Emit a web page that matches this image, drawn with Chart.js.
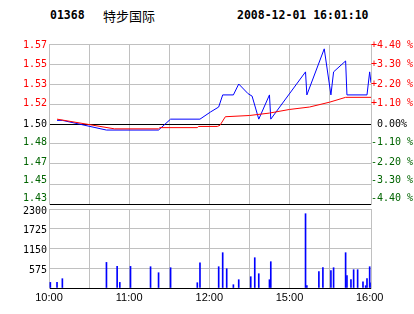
<!DOCTYPE html>
<html>
<head>
<meta charset="utf-8">
<script src="https://cdn.jsdelivr.net/npm/chart.js@4.4.0/dist/chart.umd.min.js"></script>
<style>
  body { margin: 0; background: #fff; width: 414px; height: 314px; overflow: hidden; position: relative; }
  canvas { position: absolute; left: 0; }
  .hd { position: absolute; top: 10px; font: bold 11.5px "DejaVu Sans Mono"; line-height: 11.5px; color: #000; white-space: pre; }
  .cn { font: 13px "Noto Sans CJK SC"; line-height: 13px; top: 9px; }
</style>
</head>
<body>
<div class="hd" style="left:50px">01368</div>
<div class="hd cn" style="left:103px">特步国际</div>
<div class="hd" style="left:237px">2008-12-01 16:01:10</div>
<canvas id="priceChart" width="414" height="214" style="top:0"></canvas>
<canvas id="volChart" width="414" height="114" style="top:200px"></canvas>
<script>
// 昨收 + 刻度
const preClose = 1.50;
const pctSteps = [4.4, 3.3, 2.2, 1.1, 0, -1.1, -2.2, -3.3, -4.4];
const priceLabels = ['1.57', '1.55', '1.53', '1.52', '1.50', '1.48', '1.47', '1.45', '1.43'];
const pctLabels = ['+4.40 %', '+3.30 %', '+2.20 %', '+1.10 %', ' 0.00%', '-1.10 %', '-2.20 %', '-3.30 %', '-4.40 %'];
const timeTicks = [0, 30, 60, 90, 120, 150, 180, 210, 240];
const timeLabels = ['10:00', '', '11:00', '', '12:00', '', '15:00', '', '16:00'];
const volTicks = [0, 575, 1150, 1725, 2300];
const lastMinute = 241;

// 成交价 (分钟, 价格)
const priceMinutes = [6, 10, 43, 82, 91, 113, 121, 127, 130, 138, 142, 149, 152, 157, 165, 166, 192, 193, 206, 211, 213, 222, 223, 238, 240, 241];
const prices = [1.503, 1.503, 1.495, 1.495, 1.504, 1.504, 1.510, 1.514, 1.524, 1.524, 1.533, 1.525, 1.523, 1.504, 1.524, 1.504, 1.543, 1.524, 1.562, 1.524, 1.543, 1.552, 1.524, 1.524, 1.543, 1.534];

// 均价
const avgMinutes = [6, 49, 82, 83, 111, 112, 126, 128, 132, 150, 165, 180, 195, 210, 222, 241];
const avgPrices = [1.504, 1.496, 1.496, 1.497, 1.497, 1.498, 1.498, 1.499, 1.506, 1.507, 1.509, 1.512, 1.514, 1.518, 1.522, 1.522];

// 成交量
const volMinutes = [1, 6, 10, 43, 51, 53, 61, 76, 82, 91, 111, 113, 127, 130, 133, 138, 142, 151, 154, 157, 165, 166, 192, 193, 202, 205, 211, 213, 222, 223, 226, 228, 231, 235, 237, 238, 240, 241];
const volumes = [163, 163, 271, 745, 629, 163, 629, 620, 445, 591, 154, 736, 620, 1028, 562, 96, 242, 329, 882, 416, 242, 766, 2163, 67, 475, 591, 504, 591, 1028, 358, 242, 533, 533, 183, 67, 271, 620, 154];

const RED = '#ff0000', GREEN = '#006400', GREY = '#c0c0c0';
const tickFont = { family: 'DejaVu Sans Mono', size: 10 };
// 价格标签的上下微调 (像素), 底部几个标签在原图里往上挤
const labelNudge = [1, 0, 0, -1, 0, -2, -2, -4, -6];

const priceMin = preClose * (1 + pctSteps[pctSteps.length - 1] / 100);
const priceMax = preClose * (1 + pctSteps[0] / 100);

function pctColor(i) {
    return pctSteps[i] > 0 ? RED : (pctSteps[i] < 0 ? GREEN : '#000');
}

function pctTicks(s) {
    s.ticks = pctSteps.map(p => ({ value: preClose * (1 + p / 100) }));
}

// 只画标签的轴, 标签位置按 labelNudge 微调
function nudgedTicks(s) {
    pctTicks(s);
    s.getPixelForTick = i => s.getPixelForValue(s.ticks[i].value) + labelNudge[i];
}

const xAxis = (showLabels) => ({
    type: 'linear',
    min: 0,
    max: lastMinute,
    offset: false,
    afterBuildTicks: s => { s.ticks = timeTicks.map(v => ({ value: v })); },
    grid: {
        drawTicks: false,
        offset: false,
        color: ctx => ctx.index === timeTicks.length - 1 ? 'rgba(0,0,0,0)' : GREY
    },
    border: { color: '#000' },
    ticks: {
        display: showLabels,
        autoSkip: false,
        maxRotation: 0,
        padding: 3,
        color: '#000',
        font: { family: 'Liberation Sans', size: 11 },
        callback: (v, i) => timeLabels[i]
    },
    afterFit: s => { s.height = showLabels ? 26 : 0; }
});

Chart.defaults.animation = false;

new Chart(document.getElementById('priceChart'), {
    type: 'line',
    data: {
        datasets: [{
            data: avgMinutes.map((m, i) => ({ x: m, y: avgPrices[i] })),
            borderColor: RED,
            borderWidth: 1,
            pointRadius: 0,
            tension: 0
        }, {
            data: priceMinutes.map((m, i) => ({ x: m, y: prices[i] })),
            borderColor: '#0000ff',
            borderWidth: 1,
            pointRadius: 0,
            tension: 0
        }]
    },
    options: {
        responsive: false,
        layout: { padding: { top: 44, bottom: 10, left: 0, right: 0 } },
        plugins: { legend: { display: false }, tooltip: { enabled: false } },
        scales: {
            x: xAxis(false),
            y: {
                weight: 0,
                min: priceMin,
                max: priceMax,
                afterBuildTicks: pctTicks,
                afterFit: s => { s.width = 0; },
                grid: {
                    drawTicks: false,
                    color: ctx => (pctSteps[ctx.index] === 0 || ctx.index === pctSteps.length - 1) ? '#000' : GREY
                },
                border: { color: GREY },
                ticks: { display: false }
            },
            yl: {
                position: 'left',
                weight: 1,
                min: priceMin,
                max: priceMax,
                afterBuildTicks: nudgedTicks,
                afterFit: s => { s.width = 49; },
                grid: { display: false, drawTicks: false },
                border: { display: false },
                ticks: {
                    padding: 2,
                    font: tickFont,
                    color: ctx => pctColor(ctx.index),
                    callback: (v, i) => priceLabels[i]
                }
            },
            y2: {
                position: 'right',
                min: priceMin,
                max: priceMax,
                afterBuildTicks: nudgedTicks,
                afterFit: s => { s.width = 43; },
                grid: { display: false, drawTicks: false },
                border: { color: GREY },
                ticks: {
                    padding: 0,
                    font: tickFont,
                    color: ctx => pctColor(ctx.index),
                    callback: (v, i) => pctLabels[i]
                }
            }
        }
    }
});

new Chart(document.getElementById('volChart'), {
    type: 'bar',
    data: {
        datasets: [{
            data: volMinutes.map((m, i) => ({ x: m, y: volumes[i] })),
            backgroundColor: '#0000ff',
            borderWidth: 0,
            barThickness: 1
        }]
    },
    options: {
        responsive: false,
        layout: { padding: { top: 9, bottom: 0, left: 0, right: 0 } },
        plugins: { legend: { display: false }, tooltip: { enabled: false } },
        scales: {
            x: xAxis(true),
            y: {
                min: 0,
                max: volTicks[volTicks.length - 1],
                afterBuildTicks: s => { s.ticks = volTicks.map(v => ({ value: v })); },
                afterFit: s => { s.width = 49; },
                grid: { drawTicks: false, color: GREY },
                border: { color: GREY },
                ticks: {
                    padding: 2,
                    labelOffset: 2,
                    font: tickFont,
                    color: '#000',
                    callback: v => v === 0 ? '' : String(v)
                }
            },
            y2: {
                position: 'right',
                min: 0,
                max: volTicks[volTicks.length - 1],
                afterFit: s => { s.width = 43; },
                grid: { display: false, drawTicks: false },
                border: { color: GREY },
                ticks: { display: false }
            }
        }
    }
});
</script>
</body>
</html>
